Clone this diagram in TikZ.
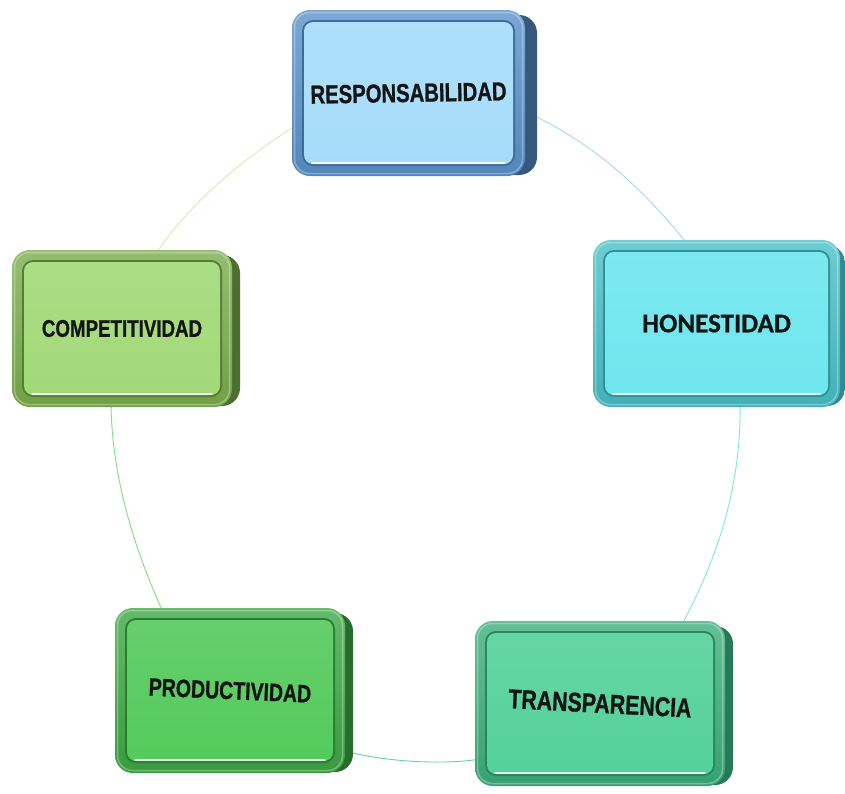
\documentclass[tikz,border=0pt]{standalone}
\usepackage{graphicx}
\usepackage{fontspec}
\setmainfont{Liberation Sans}
\newfontfamily\cardfont{Liberation Sans Bold}[FakeBold=1]
\newfontfamily\calfont{Carlito Bold}[FakeBold=0.6]
\usetikzlibrary{backgrounds}

% palette: face, frame, inner rim, extruded side
\definecolor{respFace}{HTML}{A6DCFA}
\definecolor{respFrame}{HTML}{5A92CA}
\definecolor{respRim}{HTML}{3D6C9C}
\definecolor{respSide}{HTML}{2B4662}
\definecolor{honFace}{HTML}{6EE6EE}
\definecolor{honFrame}{HTML}{48C0C7}
\definecolor{honRim}{HTML}{2E9298}
\definecolor{honSide}{HTML}{28787C}
\definecolor{transFace}{HTML}{54D19A}
\definecolor{transFrame}{HTML}{3CAF7C}
\definecolor{transRim}{HTML}{29875C}
\definecolor{transSide}{HTML}{22684A}
\definecolor{prodFace}{HTML}{54CA5C}
\definecolor{prodFrame}{HTML}{3EA845}
\definecolor{prodRim}{HTML}{2A7E30}
\definecolor{prodSide}{HTML}{1F5A24}
\definecolor{compFace}{HTML}{A2D978}
\definecolor{compFrame}{HTML}{7AAE4C}
\definecolor{compRim}{HTML}{567D33}
\definecolor{compSide}{HTML}{3E5B24}
\definecolor{linkRH}{HTML}{A2D8F2}
\definecolor{linkHT}{HTML}{7FE2EC}
\definecolor{linkTP}{HTML}{62D4A2}
\definecolor{linkPC}{HTML}{80DE80}
\definecolor{linkCR}{HTML}{CDEDB2}

\tikzset{
  card side/.style={left color=#1Side, right color=#1Side!75!#1Frame, rounded corners=18pt},
  card frame/.style={top color=#1Frame!80!white, bottom color=#1Frame!92!black, rounded corners=18pt},
  card gloss/.style={draw=white, draw opacity=.3, line width=1.5pt, rounded corners=15pt},
  card rim/.style={fill=#1Rim, rounded corners=11pt},
  card face/.style={top color=#1Face!90!white, bottom color=#1Face, rounded corners=9pt,
    inner sep=0pt, text=black!92, align=center},
  card shine/.style={draw=white, draw opacity=.85, line width=1.6pt, line cap=round},
  link/.style={line width=.9pt},
}

% #1 node name, (#2,#3)-(#4,#5) front frame, #6 side depth, #7 palette, #8 label
\newcommand\valuecard[8]{%
  \path[card side=#7] (#2+#6,#3+5) rectangle (#4+#6,#5-1);
  \path[card frame=#7] (#2,#3) rectangle (#4,#5);
  \path[card gloss] (#2+2.5,#3+2.5) rectangle (#4-2.5,#5-2.5);
  \path[card rim=#7] (#2+10,#3+10) rectangle (#4-10,#5-10);
  \node[card face=#7, minimum width={#4-#2-24}, minimum height={#5-#3-24}]
    (#1) at ({(#2+#4)/2},{(#3+#5)/2}) {#8};
  \path[card shine] (#2+20,#5-13) -- (#4-20,#5-13);
}

\begin{document}
\begin{tikzpicture}[x=1pt,y=-1pt]
\useasboundingbox (0,0) rectangle (845,793);

\valuecard{resp}{292}{10}{525}{176}{12}{resp}
  {\rotatebox{1}{\cardfont\fontsize{26}{28}\selectfont\scalebox{.78}[1]{RESPONSABILIDAD}}}
\valuecard{hon}{593}{240}{840}{407}{5}{hon}
  {\calfont\fontsize{27}{29}\selectfont HONESTIDAD}
\valuecard{trans}{475}{621}{725}{786}{8}{trans}
  {\rotatebox{-3}{\cardfont\fontsize{27}{29}\selectfont\scalebox{.79}[1]{TRANSPARENCIA}}}
\valuecard{prod}{115}{608}{345}{773}{8}{prod}
  {\rotatebox{-2.5}{\cardfont\fontsize{25}{27}\selectfont\scalebox{.78}[1]{PRODUCTIVIDAD}}}
\valuecard{comp}{12}{250}{232}{407}{8}{comp}
  {\cardfont\fontsize{24}{26}\selectfont\scalebox{.78}[1]{COMPETITIVIDAD}}

% the cycle: thin arcs running behind the cards
\begin{scope}[on background layer]
  \draw[link, draw=linkRH] ([shift={(121.5,21)}]resp.center)
    .. controls +(62,28) and +(-42,-54) .. ([shift={(-28.5,-78.5)}]hon.center);
  \draw[link, draw=linkHT] ([shift={(23.5,76.5)}]hon.center)
    .. controls +(2,88) and +(36,-66) .. ([shift={(80,-75.5)}]trans.center);
  \draw[link, draw=linkTP] ([shift={(-120,55.5)}]trans.center)
    .. controls +(-35,6) and +(40,11) .. ([shift={(115,60.5)}]prod.center);
  \draw[link, draw=linkPC] ([shift={(-67,-78.5)}]prod.center)
    .. controls +(-30,-66) and +(0,73) .. ([shift={(-11,71.5)}]comp.center);
  \draw[link, draw=linkCR] ([shift={(33,-73.5)}]comp.center)
    .. controls +(36,-54) and +(-55,35) .. ([shift={(-110.5,31)}]resp.center);
\end{scope}
\end{tikzpicture}
\end{document}
